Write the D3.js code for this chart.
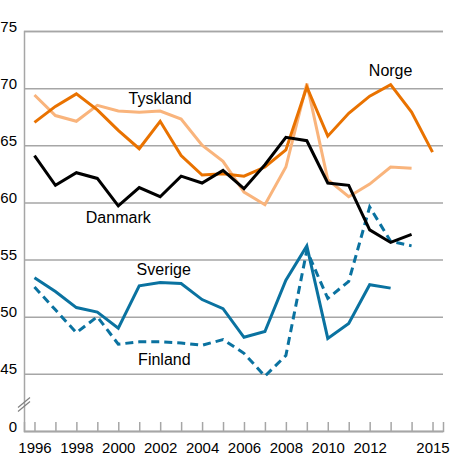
<!DOCTYPE html>
<html>
<head>
<meta charset="utf-8">
<script src="https://cdn.jsdelivr.net/npm/d3@7"></script>
<style>
  html, body { margin: 0; padding: 0; background: #fff; }
  svg { display: block; font-family: "Liberation Sans", Arial, sans-serif; }
</style>
</head>
<body>
<svg id="chart" width="450" height="471"></svg>
<script>
const years = [1996,1997,1998,1999,2000,2001,2002,2003,2004,2005,2006,2007,2008,2009,2010,2011,2012,2013,2014,2015];
const norge    = [67.0,68.4,69.5,68.1,66.3,64.7,67.1,64.1,62.4,62.5,62.3,63.1,64.6,70.1,65.8,67.8,69.3,70.3,67.9,64.4];
const tyskland = [69.4,67.6,67.1,68.5,68.0,67.9,68.0,67.3,65.0,63.6,60.9,59.8,63.1,70.4,62.0,60.5,61.6,63.1,63.0,null];
const danmark  = [64.1,61.5,62.6,62.1,59.7,61.3,60.5,62.3,61.7,62.8,61.2,63.3,65.7,65.4,61.7,61.5,57.6,56.5,57.2,null];
const sverige  = [53.4,52.2,50.8,50.4,49.0,52.7,53.0,52.9,51.5,50.7,48.2,48.7,53.2,56.2,48.1,49.4,52.8,52.5,null,null];
const finland  = [52.6,50.6,48.6,50.0,47.6,47.8,47.8,47.7,47.5,48.0,46.8,44.8,46.6,55.8,51.6,53.1,59.6,56.6,56.2,null];

const xTickLabels = [1996,1998,2000,2002,2004,2006,2008,2010,2012,2015];
const yTicks = [40,45,50,55,60,65,70,75];
const yTickLabels = ["0","45","50","55","60","65","70","75"];

const seriesNames = ["Finland","Sverige","Tyskland","Norge","Danmark"];
const seriesValues = [finland, sverige, tyskland, norge, danmark];
const seriesColors = ["#0a72a0","#0a72a0","#f9b47c","#e97200","#000000"];
const seriesDash = ["8,5",null,null,null,null];
// label anchor positions in data coordinates [year, value]
const labelPos = {
  "Tyskland": [2002.0, 68.6],
  "Norge": [2013.0, 71.06],
  "Danmark": [2000.0, 58.2],
  "Sverige": [2002.17, 53.65],
  "Finland": [2002.2, 45.77]
};

const margin = {left: 24, top: 31, right: 7, bottom: 40};
const W = 450, H = 471;
const svg = d3.select("#chart");

const x = d3.scaleLinear().domain([1995.5, 2015.5]).range([margin.left, W - margin.right]);
const y = d3.scaleLinear().domain([40, 75]).range([431, margin.top]);

const gridColor = "#a6a6a6";

// gridlines + y labels
const yAxis = d3.axisLeft(y)
  .tickValues(yTicks)
  .tickSize(-(x.range()[1] - x.range()[0]))
  .tickPadding(7)
  .tickFormat((d, i) => yTickLabels[i]);
const gy = svg.append("g").attr("transform", `translate(${margin.left},0)`).call(yAxis);
gy.select(".domain").attr("stroke", gridColor).attr("stroke-width", 1.5);
gy.selectAll(".tick line").attr("stroke", gridColor).attr("stroke-width", 1.5);
gy.selectAll(".tick text").attr("dy", "0").attr("font-size", 15).attr("fill", "#000");

// x axis
const xAxis = d3.axisBottom(x)
  .tickValues(years)
  .tickSize(-9)
  .tickPadding(11)
  .tickFormat(d => xTickLabels.includes(d) ? String(d) : "");
const gx = svg.append("g").attr("transform", `translate(0,${y(40)})`).call(xAxis);
gx.select(".domain").attr("stroke", gridColor).attr("stroke-width", 1.5);
gx.selectAll(".tick line").attr("stroke", gridColor).attr("stroke-width", 1.5);
gx.selectAll(".tick text").attr("font-size", 15).attr("fill", "#000");

// axis break marks
const by = (y(40) + y(45)) / 2 + 2;
[-2, 2].forEach(off => {
  svg.append("line")
    .attr("x1", margin.left - 6).attr("y1", by + off + 5)
    .attr("x2", margin.left + 6).attr("y2", by + off - 5)
    .attr("stroke", "#808080").attr("stroke-width", 1.2);
});

// lines
const line = d3.line()
  .defined(d => d[1] != null)
  .x(d => x(d[0]))
  .y(d => y(d[1]));

seriesValues.forEach((vals, i) => {
  const pts = years.map((yr, j) => [yr, vals[j]]);
  const p = svg.append("path")
    .datum(pts)
    .attr("d", line)
    .attr("fill", "none")
    .attr("stroke", seriesColors[i])
    .attr("stroke-width", 3)
    .attr("stroke-linejoin", "miter");
  if (seriesDash[i]) p.attr("stroke-dasharray", seriesDash[i]);
});

// labels
Object.entries(labelPos).forEach(([name, pos]) => {
  svg.append("text")
    .attr("x", x(pos[0]))
    .attr("y", y(pos[1]))
    .attr("text-anchor", "middle")
    .attr("font-size", 16)
    .attr("fill", "#000")
    .text(name);
});
</script>
</body>
</html>
